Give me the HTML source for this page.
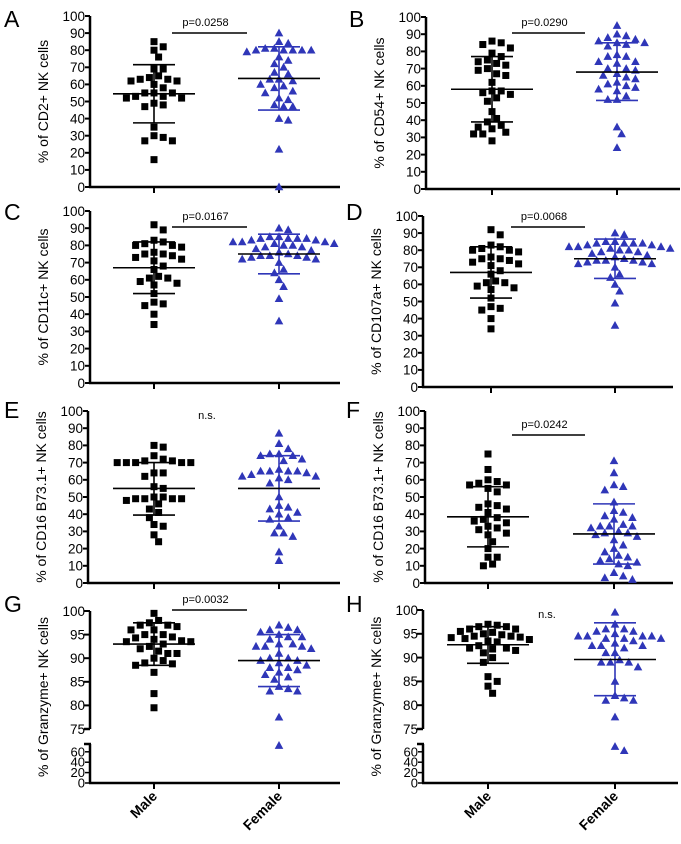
<!DOCTYPE html>
<html><head><meta charset="utf-8">
<style>
html,body{margin:0;padding:0;background:#fff;}
svg{display:block;font-family:"Liberation Sans",Arial,sans-serif;}
</style></head>
<body>
<svg id="fig" width="681" height="844" viewBox="0 0 681 844" xmlns="http://www.w3.org/2000/svg"></svg>
<script>
// ---------- data ----------
const categories = ["Male", "Female"];
const panelLetters = ["A","B","C","D","E","F","G","H"];
const yTitles = ["% of CD2+ NK cells","% of CD54+ NK cells","% of CD11c+ NK cells","% of CD107a+ NK cells",
  "% of CD16 B73.1+ NK cells","% of CD16 B73.1+ NK cells","% of Granzyme+ NK cells","% of Granzyme+ NK cells"];
const pLabels = ["p=0.0258","p=0.0290","p=0.0167","p=0.0068","n.s.","p=0.0242","p=0.0032","n.s."];

const maleA = [85,82,80,76,69,69,65,64,63,63,62,62,60,58,55,55,55,53,53,52,52,49,48,47,35,30,29,27,27,16];
const femaleA = [90,85,84,81,81,80,80,80,80,80,79,76,74,72,70,67,66,63,63,62,60,59,58,56,55,52,51,48,47,47,40,39,22,0];
const maleB = [86,85,84,82,79,77,75,74,73,72,70,69,67,66,62,57,57,56,55,53,51,45,41,39,37,36,35,33,32,32,28];
const femaleB = [95,90,89,88,87,86,85,85,84,83,78,77,77,74,74,73,70,70,69,67,66,65,64,62,61,60,59,58,57,54,52,52,36,32,24];
const maleC = [92,89,83,82,81,80,80,79,76,75,75,74,73,72,71,68,66,62,61,61,59,58,57,52,47,46,45,40,34];
const femaleC = [90,89,85,85,84,84,84,84,83,83,82,82,82,81,81,80,80,79,79,78,77,76,75,74,74,74,73,73,72,72,70,66,64,60,56,49,36];
const maleD = [92,89,83,82,81,80,80,79,76,75,75,74,73,72,71,68,66,62,61,61,59,58,57,52,47,46,45,40,34];
const femaleD = [90,89,85,85,84,84,84,84,83,83,82,82,82,81,81,80,80,79,79,78,77,76,75,74,74,74,73,73,72,72,70,66,64,60,56,49,36];
const maleE = [80,79,74,72,71,71,70,70,70,70,70,64,64,62,56,55,50,50,49,49,49,49,48,46,43,41,38,34,33,28,24];
const femaleE = [87,81,78,75,75,74,74,72,71,66,65,65,65,65,64,63,62,62,61,60,58,50,45,44,43,41,40,38,37,33,29,29,27,18,13];
const maleF = [75,66,60,59,58,57,57,55,53,46,45,44,43,41,38,37,36,35,33,32,31,29,28,24,20,15,15,11,10];
const femaleF = [71,64,57,56,54,47,42,41,39,38,37,34,33,33,33,32,30,29,29,28,27,25,22,20,18,16,15,14,13,12,11,10,6,4,3,2];
const maleG = [99.5,98,97.5,97,97,96.7,96,96,95,95,94.5,94.3,94,93.7,93.5,93.5,93,92.5,92,91.5,91,91,90,89.5,89,88.8,88.5,87,82.5,79.5];
const femaleG = [97,96.5,96,96,95.5,95,94.5,94.5,94,93,93,92.5,92.5,92.5,92,91,90,90,89.5,89.5,89,88.5,88,88,87.5,87,86.5,86,85.5,84,83.5,83,83,77.5,72];
const maleH = [97,96.8,96.5,96.5,96,96,95.5,95.3,95,94.8,94.5,94.5,94.3,94.2,94,93.8,93.5,93.3,92.5,92,92,91.8,91.5,91,90,89,86,85,84,82.5];
const femaleH = [99.5,97,96,96,95.5,95.5,95,94.5,94.5,94.5,94.5,94,94,94,93.5,93,92.5,92.5,92.5,92,91,91,89.5,89,89,89,88,85,82,81.5,81,81,77.5,70,62];

// summary values: [mean, upper SD, lower SD]
const maleStats = [[54.5,71.5,37.5],[58,77,39],[67,82,52],[67,82,52],[55,70,39.5],[38.5,56,21],[93,97.5,88.5],[92.7,96.5,88.8]];
const femaleStats = [[63.5,82,45],[68,85,51.5],[75,86.5,63.5],[75,86.5,63.5],[55,74,36],[28.5,46,11],[89.5,95,84],[89.6,97.3,82]];
const tickLabels = [0,10,20,30,40,50,60,70,80,90,100];
const brokenUpperTicks = [75,80,85,90,95,100];
const brokenLowerTicks = [0,20,40,60];

const maleSeries = [maleA,maleB,maleC,maleD,maleE,maleF,maleG,maleH];
const femaleSeries = [femaleA,femaleB,femaleC,femaleD,femaleE,femaleF,femaleG,femaleH];

// ---------- layout ----------
const layout = [
 {ax:90, top:16, bot:187, mx:154, fx:279, xe:340, lx:4, ly:27, sig:[172,247,33]},
 {ax:426,top:17, bot:189, mx:492, fx:617, xe:680, lx:349,ly:27, sig:[512,585,33]},
 {ax:90, top:211,bot:383, mx:154, fx:279, xe:340, lx:4, ly:220,sig:[172,247,227]},
 {ax:423,top:216,bot:387, mx:491, fx:615, xe:673, lx:346,ly:220,sig:[511,585,227]},
 {ax:88, top:411,bot:583, mx:154, fx:279, xe:340, lx:4, ly:418,sig:[172,247,0], ns:[207,419]},
 {ax:425,top:411,bot:583, mx:488, fx:614, xe:673, lx:346,ly:418,sig:[512,585,435]},
 {ax:90, top:611,brk:729,brk2:744,bot:783, mx:154, fx:279, xe:340, lx:4, ly:612,sig:[172,247,610], broken:true},
 {ax:423,top:610,brk:729,brk2:744,bot:783, mx:488, fx:615, xe:678, lx:346,ly:612,sig:[0,0,0], ns:[547,618], broken:true}
];
const BLUE = "#2f36b8";
const svg = document.getElementById('fig');
const NS = "http://www.w3.org/2000/svg";
function mk(tag, attrs, parent){ const e=document.createElementNS(NS,tag); for(const k in attrs) e.setAttribute(k,attrs[k]); (parent||svg).appendChild(e); return e; }

function makeScale(L){
  if(!L.broken) return v => L.bot - (v/100)*(L.bot-L.top);
  return v => v>=75 ? L.brk - (v-75)/25*(L.brk-L.top) : L.bot - (v/75)*(L.bot-L.brk2);
}
function swarm(cx, ys, d, step){
  const placed=[]; const out=[];
  const order = ys.map((y,i)=>i).sort((a,b)=>ys[a]-ys[b]);
  for(const i of order){
    const y=ys[i];
    for(let k=0;k<40;k++){
      const off = (k===0)?0:(k%2? 1:-1)*Math.ceil(k/2)*step;
      const x=cx+off;
      if(placed.every(p=>Math.hypot(p[0]-x,p[1]-y)>=d)){ placed.push([x,y]); out[i]=x; break; }
    }
  }
  return out;
}

layout.forEach((L,pi)=>{
  const g = mk('g',{});
  
  
  const y = makeScale(L);
  const lt = mk('text',{x:L.lx,y:L.ly,'font-size':23,fill:'#000'},g);
  lt.textContent=panelLetters[pi];
  
  
  const yg = mk('g',{},g);
  
  
  if(!L.broken){
    mk('line',{x1:L.ax,y1:L.top,x2:L.ax,y2:L.bot,stroke:'#000','stroke-width':2.5},yg);
    tickLabels.forEach(t=>{
      mk('line',{x1:L.ax-5,y1:y(t),x2:L.ax,y2:y(t),stroke:'#000','stroke-width':2},yg);
      const tx=mk('text',{x:L.ax-5,y:y(t)+4.8,'font-size':13.5,'text-anchor':'end'},yg);
      tx.textContent=t;
      
      
    });
  } else {
    mk('line',{x1:L.ax,y1:L.top,x2:L.ax,y2:L.brk,stroke:'#000','stroke-width':2.5},yg);
    mk('line',{x1:L.ax,y1:L.brk2,x2:L.ax,y2:L.bot,stroke:'#000','stroke-width':2.5},yg);
    mk('line',{x1:L.ax-6,y1:L.brk2,x2:L.ax+1,y2:L.brk2,stroke:'#000','stroke-width':2.5},yg);
    brokenUpperTicks.forEach(t=>{
      mk('line',{x1:L.ax-6,y1:y(t),x2:L.ax,y2:y(t),stroke:'#000','stroke-width':t===75?2.5:2},yg);
      const tx=mk('text',{x:L.ax-5,y:y(t)+4.8,'font-size':13.5,'text-anchor':'end'},yg);
      tx.textContent=t;
      
      
    });
    brokenLowerTicks.forEach(t=>{
      mk('line',{x1:L.ax-5,y1:y(t),x2:L.ax,y2:y(t),stroke:'#000','stroke-width':1.5},yg);
      const tx=mk('text',{x:L.ax-5,y:y(t)+4.5,'font-size':13,'text-anchor':'end'},yg);
      tx.textContent=t;
      
      
    });
  }
  const yc=(L.top+L.bot)/2, tx0=L.ax-42;
  const tt=mk('text',{x:tx0,y:yc,'font-size':14,'text-anchor':'middle',transform:`rotate(-90 ${tx0} ${yc})`},g);
  tt.textContent=yTitles[pi];
  
  
  const xa=mk('line',{x1:L.ax-1,y1:L.bot,x2:L.xe,y2:L.bot,stroke:'#000','stroke-width':2.5},g);
  
  
  [L.mx,L.fx].forEach(cx=>mk('line',{x1:cx,y1:L.bot,x2:cx,y2:L.bot+6,stroke:'#000','stroke-width':2},g));
  if(L.broken){
    [[L.mx,0],[L.fx,1]].forEach(([cx,ci])=>{
      const xl=mk('text',{x:cx+4,y:L.bot+14,'font-size':14,'font-weight':'bold','text-anchor':'end',transform:`rotate(-45 ${cx+4} ${L.bot+14})`},g);
      xl.textContent=categories[ci];
      
      
    });
  }
  if(L.ns){
    const ns=mk('text',{x:L.ns[0],y:L.ns[1],'font-size':11,'text-anchor':'middle'},g);
    ns.textContent=pLabels[pi];
    
    
  } else {
    const [x1,x2,sy]=L.sig;
    const sb=mk('line',{x1:x1,y1:sy,x2:x2,y2:sy,stroke:'#000','stroke-width':1.5},g);
    
    
    const pt=mk('text',{x:(x1+x2)/2-4,y:sy-7,'font-size':11,'text-anchor':'middle'},g);
    pt.textContent=pLabels[pi];
    
    
  }
  const mys = maleSeries[pi].map(y);
  const mxs = swarm(L.mx, mys, 8.2, 4.6);
  mys.forEach((py,i)=>{
    const r=mk('rect',{x:mxs[i]-3.5,y:py-3.5,width:7,height:7,fill:'#000'},g);
    
    
  });
  const fys = femaleSeries[pi].map(y);
  const fxs = swarm(L.fx, fys, 8.2, 4.6);
  fys.forEach((py,i)=>{
    const x=fxs[i];
    const p=mk('polygon',{points:`${x},${py-4.5} ${x-4.3},${py+3.3} ${x+4.3},${py+3.3}`,fill:BLUE},g);
    
    
  });
  [[L.mx,maleStats[pi],'#000','male'],[L.fx,femaleStats[pi],BLUE,'female']].forEach(([cx,st,col,nm])=>{
    const [m,hi,lo]=st;
    const eb=mk('g',{},g);
    
    
    mk('line',{x1:cx,y1:y(hi),x2:cx,y2:y(lo),stroke:col,'stroke-width':1.6},eb);
    mk('line',{x1:cx-21,y1:y(hi),x2:cx+21,y2:y(hi),stroke:col,'stroke-width':1.6},eb);
    mk('line',{x1:cx-21,y1:y(lo),x2:cx+21,y2:y(lo),stroke:col,'stroke-width':1.6},eb);
    mk('line',{x1:cx-41,y1:y(m),x2:cx+41,y2:y(m),stroke:'#000','stroke-width':1.6},eb);
  });
});
</script>
</body></html>
